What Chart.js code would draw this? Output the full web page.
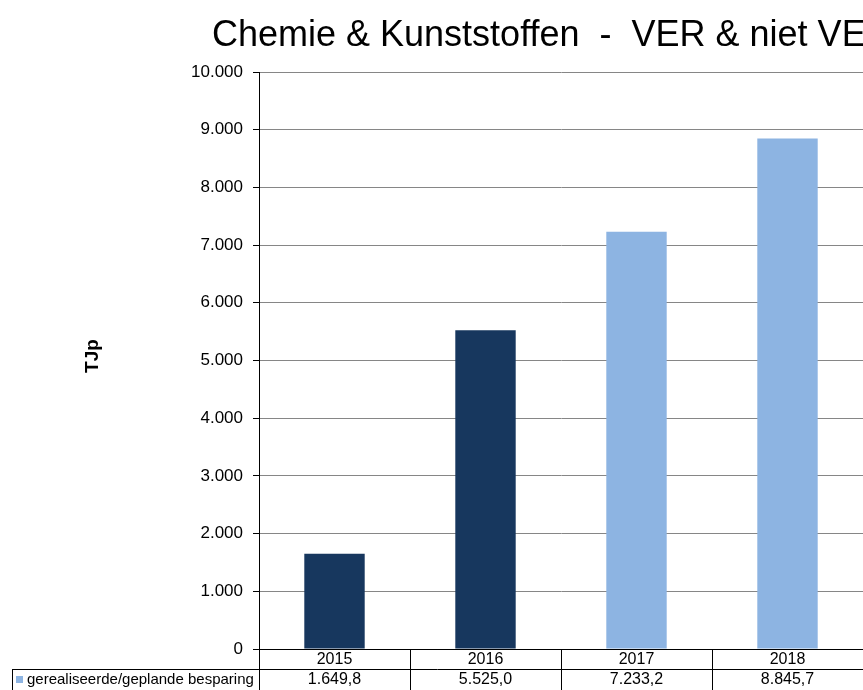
<!DOCTYPE html>
<html>
<head>
<meta charset="utf-8">
<script src="https://cdn.jsdelivr.net/npm/chart.js@4/dist/chart.umd.min.js"></script>
<style>
html,body{margin:0;padding:0;background:#fff;}
#wrap{width:863px;height:690px;position:relative;}
</style>
</head>
<body>
<div id="wrap"><canvas id="c" width="863" height="690"></canvas></div>
<script>
const title = "Chemie & Kunststoffen  -  VER & niet VER";
const axisTitle = "TJp";
const seriesName = "gerealiseerde/geplande besparing";
const categories = ["2015", "2016", "2017", "2018"];
const values = [1649.8, 5525.0, 7233.2, 8845.7];
const valueLabels = ["1.649,8", "5.525,0", "7.233,2", "8.845,7"];
const barColors = ["#17375E", "#17375E", "#8DB4E2", "#8DB4E2"];
const seriesColor = "#8DB4E2";
const yMax = 10000;
const yStep = 1000;

const FONT = "'Liberation Sans', Arial, sans-serif";

function fmtThousands(v) {
  return String(Math.round(v)).replace(/\B(?=(\d{3})+(?!\d))/g, ".");
}

const decor = {
  id: "decor",
  afterDraw(chart) {
    const ctx = chart.ctx;
    const x = chart.scales.x;
    const y = chart.scales.y;
    const area = chart.chartArea;
    ctx.save();
    // title
    ctx.fillStyle = "#000";
    ctx.font = "36px " + FONT;
    ctx.textAlign = "left";
    ctx.textBaseline = "alphabetic";
    ctx.fillText(title, 212, 46);
    // axis title
    ctx.save();
    ctx.translate(93, 356);
    ctx.rotate(-Math.PI / 2);
    ctx.font = "bold 19px " + FONT;
    ctx.textAlign = "center";
    ctx.textBaseline = "middle";
    ctx.fillText(axisTitle, 0, 0);
    ctx.restore();

    // data table
    const top = y.getPixelForValue(0);
    const row1 = top + 20;
    const bottom = 690;
    const n = categories.length;
    const half = (x.getPixelForValue(1) - x.getPixelForValue(0)) / 2;
    ctx.strokeStyle = "#000";
    ctx.lineWidth = 1;
    ctx.beginPath();
    ctx.moveTo(12, Math.round(row1) + 0.5);
    ctx.lineTo(area.right, Math.round(row1) + 0.5);
    ctx.moveTo(12.5, Math.round(row1));
    ctx.lineTo(12.5, bottom);
    for (let i = 0; i < n; i++) {
      const bx = Math.round(x.getPixelForValue(i) - half) + 0.5;
      ctx.moveTo(bx, top);
      ctx.lineTo(bx, bottom);
    }
    ctx.stroke();

    ctx.fillStyle = "#000";
    ctx.font = "16px " + FONT;
    ctx.textAlign = "center";
    ctx.textBaseline = "middle";
    for (let i = 0; i < n; i++) {
      const cx = x.getPixelForValue(i);
      ctx.fillText(categories[i], cx, top + 11);
      ctx.fillText(valueLabels[i], cx, row1 + 11);
    }
    ctx.font = "15px " + FONT;
    ctx.fillStyle = seriesColor;
    ctx.fillRect(16, row1 + 7, 7, 7);
    ctx.fillStyle = "#000";
    ctx.textAlign = "left";
    ctx.fillText(seriesName, 27, row1 + 11);
    ctx.restore();
  }
};

new Chart(document.getElementById("c"), {
  type: "bar",
  data: {
    labels: categories,
    datasets: [{
      label: seriesName,
      data: values,
      backgroundColor: barColors,
      borderWidth: 0,
      barPercentage: 0.4,
      categoryPercentage: 1.0
    }]
  },
  options: {
    responsive: false,
    animation: false,
    devicePixelRatio: 1,
    layout: { padding: { top: 72, bottom: 41, left: 0, right: 0 } },
    plugins: {
      legend: { display: false },
      tooltip: { enabled: false },
      title: { display: false }
    },
    scales: {
      x: {
        display: false,
        offset: true,
        grid: { display: false }
      },
      y: {
        min: 0,
        max: yMax,
        afterFit(scale) { scale.width = 259; },
        ticks: {
          stepSize: yStep,
          color: "#000",
          padding: 10,
          font: { family: FONT, size: 17 },
          callback: (v) => fmtThousands(v)
        },
        grid: {
          color: (c) => (c.tick && c.tick.value === 0 ? "#000" : "#868686"),
          lineWidth: 1,
          tickLength: 6,
          tickColor: "#000",
          drawTicks: true
        },
        border: { color: "#000", width: 1 }
      }
    }
  },
  plugins: [decor]
});
</script>
</body>
</html>
